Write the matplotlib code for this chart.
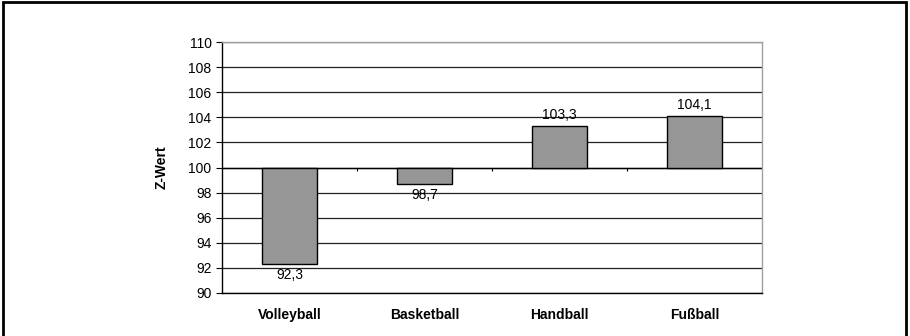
import matplotlib
matplotlib.use("Agg")
import matplotlib.pyplot as plt
from matplotlib.patches import Rectangle
import numpy as np

categories = ["Volleyball", "Basketball", "Handball", "Fußball"]
values = [92.3, 98.7, 103.3, 104.1]
value_labels = ["92,3", "98,7", "103,3", "104,1"]
yticks = list(range(90, 111, 2))
baseline = 100
ylabel = "Z-Wert"

plt.rcParams['font.family'] = ['Liberation Sans', 'DejaVu Sans']

fig = plt.figure(figsize=(9.1, 3.36), dpi=100)
ax = fig.add_axes([222/910, 1-293/336, 540/910, 251/336])

x = np.arange(len(categories))
heights = [v - baseline for v in values]
ax.bar(x, heights, bottom=baseline, width=0.41, color="#969696",
       edgecolor="black", linewidth=1.0, zorder=3)

for xi, v, lab in zip(x, values, value_labels):
    if v < baseline:
        ax.annotate(lab, (xi, v), xytext=(0, -3), textcoords="offset points",
                    ha="center", va="top", fontsize=10)
    else:
        ax.annotate(lab, (xi, v), xytext=(0, 3), textcoords="offset points",
                    ha="center", va="bottom", fontsize=10)

ax.set_xlim(-0.5, len(categories) - 0.5)
ax.set_ylim(yticks[0], yticks[-1])
ax.set_yticks(yticks)
ax.set_yticklabels([str(t) for t in yticks], fontsize=10)
ax.yaxis.grid(True, color="#222222", linewidth=0.9, zorder=0)
ax.set_axisbelow(True)

ax.set_xticks(x)
ax.set_xticklabels(categories, fontsize=10, fontweight="bold")
ax.tick_params(axis="x", length=0, pad=11)
ax.tick_params(axis="y", length=4.5, width=0.8, direction="out", pad=3)

# category axis crossing at 100
ax.axhline(baseline, color="black", linewidth=1.0, zorder=2)
bounds = np.arange(len(categories) - 1) + 0.5
ax.vlines(bounds, baseline - 0.3, baseline, color="black", linewidth=0.8, zorder=2)

ax.spines["left"].set_color("black")
ax.spines["bottom"].set_color("black")
ax.spines["top"].set_color("#a0a0a0")
ax.spines["right"].set_color("#a0a0a0")
for s in ax.spines.values():
    s.set_linewidth(1.0)

ax.set_ylabel(ylabel, fontsize=10, fontweight="bold", labelpad=14)

fig.add_artist(Rectangle((3/910, -0.05), 903/910, 1.05 - 2/336,
                         transform=fig.transFigure, fill=False,
                         edgecolor="black", linewidth=2))

fig.savefig("out.png", dpi=100)
